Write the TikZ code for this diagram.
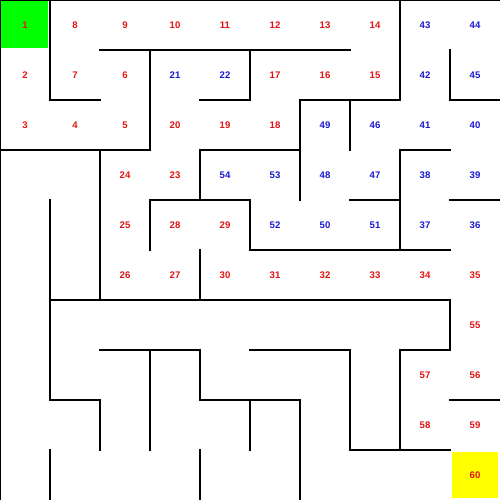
\documentclass[tikz,border=0pt]{standalone}
\usepackage{fontspec}
\setmainfont{Liberation Sans}
\usepackage{tikz}

\definecolor{numred}{RGB}{225,20,20}
\definecolor{numblue}{RGB}{25,25,210}
\definecolor{startgreen}{RGB}{0,255,0}
\definecolor{goalyellow}{RGB}{255,255,0}

\tikzset{
  wall/.style={line width=1.1pt, line cap=rect},
  rednum/.style={inner sep=0pt, text height=5.2pt, text depth=0pt, text=numred, font=\fontsize{7.2}{8}\selectfont\bfseries},
  bluenum/.style={inner sep=0pt, text height=5.2pt, text depth=0pt, text=numblue, font=\fontsize{7.2}{8}\selectfont\bfseries}
}

\begin{document}
\begin{tikzpicture}[x=0.75pt,y=0.75pt,yscale=-1,xscale=1]
\useasboundingbox (0,0) rectangle (500,500);

%Shape: Start and goal cells
\fill [startgreen] (1,1) rectangle (48,48);
\fill [goalyellow] (452,452) rectangle (498,498);

%Border
\draw [wall] (500,0) -- (0,0) -- (0,500) ;

%Walls, top part
\draw [wall] (50,0) -- (50,100) -- (100,100) ;
\draw [wall] (100,50) -- (350,50) ;
\draw [wall] (250,50) -- (250,100) -- (200,100) ;
\draw [wall] (150,50) -- (150,150) -- (0,150) ;
\draw [wall] (400,0) -- (400,100) -- (300,100) ;
\draw [wall] (350,100) -- (350,150) ;
\draw [wall] (300,100) -- (300,200) ;
\draw [wall] (300,150) -- (200,150) -- (200,200) ;
\draw [wall] (450,50) -- (450,100) -- (500,100) ;
\draw [wall] (450,150) -- (400,150) -- (400,250) ;
\draw [wall] (350,200) -- (400,200) ;
\draw [wall] (450,200) -- (500,200) ;
\draw [wall] (150,250) -- (150,200) -- (250,200) -- (250,250) -- (450,250) ;
\draw [wall] (100,150) -- (100,300) ;

%Walls, bottom part
\draw [wall] (50,200) -- (50,400) -- (100,400) -- (100,450) ;
\draw [wall] (200,250) -- (200,300) ;
\draw [wall] (50,300) -- (450,300) -- (450,350) -- (400,350) -- (400,450) ;
\draw [wall] (250,350) -- (350,350) -- (350,450) -- (450,450) ;
\draw [wall] (100,350) -- (200,350) ;
\draw [wall] (150,350) -- (150,450) ;
\draw [wall] (200,350) -- (200,400) -- (300,400) -- (300,500) ;
\draw [wall] (250,400) -- (250,450) ;
\draw [wall] (50,450) -- (50,500) ;
\draw [wall] (200,450) -- (200,500) ;
\draw [wall] (450,400) -- (500,400) ;

% Text Node, row 1
\node [rednum] (c1) at (25,25) {1};
\node [rednum] (c8) at (75,25) {8};
\node [rednum] (c9) at (125,25) {9};
\node [rednum] (c10) at (175,25) {10};
\node [rednum] (c11) at (225,25) {11};
\node [rednum] (c12) at (275,25) {12};
\node [rednum] (c13) at (325,25) {13};
\node [rednum] (c14) at (375,25) {14};
\node [bluenum] (c43) at (425,25) {43};
\node [bluenum] (c44) at (475,25) {44};
% Text Node, row 2
\node [rednum] (c2) at (25,75) {2};
\node [rednum] (c7) at (75,75) {7};
\node [rednum] (c6) at (125,75) {6};
\node [bluenum] (c21) at (175,75) {21};
\node [bluenum] (c22) at (225,75) {22};
\node [rednum] (c17) at (275,75) {17};
\node [rednum] (c16) at (325,75) {16};
\node [rednum] (c15) at (375,75) {15};
\node [bluenum] (c42) at (425,75) {42};
\node [bluenum] (c45) at (475,75) {45};
% Text Node, row 3
\node [rednum] (c3) at (25,125) {3};
\node [rednum] (c4) at (75,125) {4};
\node [rednum] (c5) at (125,125) {5};
\node [rednum] (c20) at (175,125) {20};
\node [rednum] (c19) at (225,125) {19};
\node [rednum] (c18) at (275,125) {18};
\node [bluenum] (c49) at (325,125) {49};
\node [bluenum] (c46) at (375,125) {46};
\node [bluenum] (c41) at (425,125) {41};
\node [bluenum] (c40) at (475,125) {40};
% Text Node, row 4
\node [rednum] (c24) at (125,175) {24};
\node [rednum] (c23) at (175,175) {23};
\node [bluenum] (c54) at (225,175) {54};
\node [bluenum] (c53) at (275,175) {53};
\node [bluenum] (c48) at (325,175) {48};
\node [bluenum] (c47) at (375,175) {47};
\node [bluenum] (c38) at (425,175) {38};
\node [bluenum] (c39) at (475,175) {39};
% Text Node, row 5
\node [rednum] (c25) at (125,225) {25};
\node [rednum] (c28) at (175,225) {28};
\node [rednum] (c29) at (225,225) {29};
\node [bluenum] (c52) at (275,225) {52};
\node [bluenum] (c50) at (325,225) {50};
\node [bluenum] (c51) at (375,225) {51};
\node [bluenum] (c37) at (425,225) {37};
\node [bluenum] (c36) at (475,225) {36};
% Text Node, row 6
\node [rednum] (c26) at (125,275) {26};
\node [rednum] (c27) at (175,275) {27};
\node [rednum] (c30) at (225,275) {30};
\node [rednum] (c31) at (275,275) {31};
\node [rednum] (c32) at (325,275) {32};
\node [rednum] (c33) at (375,275) {33};
\node [rednum] (c34) at (425,275) {34};
\node [rednum] (c35) at (475,275) {35};
% Text Node, rows 7 to 10
\node [rednum] (c55) at (475,325) {55};
\node [rednum] (c57) at (425,375) {57};
\node [rednum] (c56) at (475,375) {56};
\node [rednum] (c58) at (425,425) {58};
\node [rednum] (c59) at (475,425) {59};
\node [rednum] (c60) at (475,475) {60};

\end{tikzpicture}
\end{document}
